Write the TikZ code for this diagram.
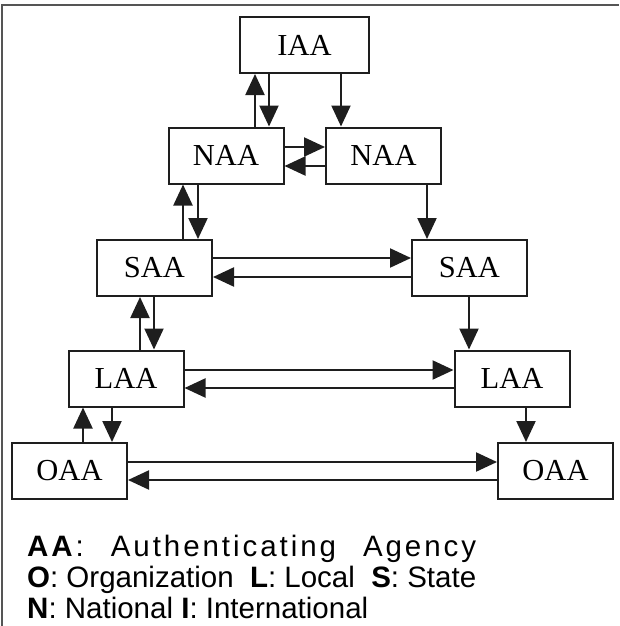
\documentclass[tikz,border=0pt]{standalone}
\usepackage{fontspec}
\setmainfont{Liberation Serif}
\newfontfamily\legendfont{Liberation Sans}
\usetikzlibrary{arrows.meta}
\definecolor{ink}{HTML}{1E1E1E}
\definecolor{framecol}{HTML}{555555}
\tikzset{
  agency/.style={draw=ink, line width=2pt, rectangle, minimum width=115pt, minimum height=56pt, inner sep=0pt, font=\fontsize{30.5}{32}\selectfont},
  arr/.style={draw=ink, line width=2.2pt, -{Triangle[length=21pt,width=19pt]}},
  legend/.style={anchor=base west, inner sep=0pt, font=\legendfont\fontsize{29.5}{31}\selectfont}
}
\begin{document}
\begin{tikzpicture}[x=1pt,y=-1pt]
\useasboundingbox (0,0) rectangle (619,626);
\draw[framecol, line width=2pt] (2,626) -- (2,5) -- (619,5);
% boxes
\node[agency, minimum width=129pt] (IAA) at (304.5,45) {IAA};
\node[agency] (NAAL) at (226,155.5) {NAA};
\node[agency] (NAAR) at (383.5,155.5) {NAA};
\node[agency] (SAAL) at (154.5,268) {SAA};
\node[agency] (SAAR) at (469.5,268) {SAA};
\node[agency] (LAAL) at (126,378.5) {LAA};
\node[agency] (LAAR) at (512,378.5) {LAA};
\node[agency] (OAAL) at (69.5,471) {OAA};
\node[agency] (OAAR) at (555.5,471) {OAA};
% helper coordinates
\coordinate (v1) at (255,0);
\coordinate (v2) at (269,0);
\coordinate (v3) at (341,0);
\coordinate (v4) at (183,0);
\coordinate (v5) at (198,0);
\coordinate (v6) at (427,0);
\coordinate (v7) at (140,0);
\coordinate (v8) at (154,0);
\coordinate (v9) at (469,0);
\coordinate (v10) at (83,0);
\coordinate (v11) at (112,0);
\coordinate (v12) at (526,0);
\coordinate (h1) at (0,147);
\coordinate (h2) at (0,166);
\coordinate (h3) at (0,258);
\coordinate (h4) at (0,277);
\coordinate (h5) at (0,370);
\coordinate (h6) at (0,388);
\coordinate (h7) at (0,462);
\coordinate (h8) at (0,480);
% vertical connectors
\draw[arr] (v1 |- NAAL.north) -- (v1 |- IAA.south);
\draw[arr] (v2 |- IAA.south) -- (v2 |- NAAL.north);
\draw[arr] (v3 |- IAA.south) -- (v3 |- NAAR.north);
\draw[arr] (v4 |- SAAL.north) -- (v4 |- NAAL.south);
\draw[arr] (v5 |- NAAL.south) -- (v5 |- SAAL.north);
\draw[arr] (v6 |- NAAR.south) -- (v6 |- SAAR.north);
\draw[arr] (v7 |- LAAL.north) -- (v7 |- SAAL.south);
\draw[arr] (v8 |- SAAL.south) -- (v8 |- LAAL.north);
\draw[arr] (v9 |- SAAR.south) -- (v9 |- LAAR.north);
\draw[arr] (v10 |- OAAL.north) -- (v10 |- LAAL.south);
\draw[arr] (v11 |- LAAL.south) -- (v11 |- OAAL.north);
\draw[arr] (v12 |- LAAR.south) -- (v12 |- OAAR.north);
% horizontal connectors
\draw[arr] (NAAL.east |- h1) -- (NAAR.west |- h1);
\draw[arr] (NAAR.west |- h2) -- (NAAL.east |- h2);
\draw[arr] (SAAL.east |- h3) -- (SAAR.west |- h3);
\draw[arr] (SAAR.west |- h4) -- (SAAL.east |- h4);
\draw[arr] (LAAL.east |- h5) -- (LAAR.west |- h5);
\draw[arr] (LAAR.west |- h6) -- (LAAL.east |- h6);
\draw[arr] (OAAL.east |- h7) -- (OAAR.west |- h7);
\draw[arr] (OAAR.west |- h8) -- (OAAL.east |- h8);
% legend
\node[legend] (leg1) at (27,556) {\makebox[449pt][s]{\addfontfeature{LetterSpace=10}\textbf{AA}: Authenticating Agency}};
\node[legend] (leg2) at (27,587) {\makebox[449pt][s]{\textbf{O}: Organization\ \ \textbf{L}: Local\ \ \textbf{S}: State}};
\node[legend] (leg3) at (27,618) {\textbf{N}: National \textbf{I}: International};
\end{tikzpicture}
\end{document}
